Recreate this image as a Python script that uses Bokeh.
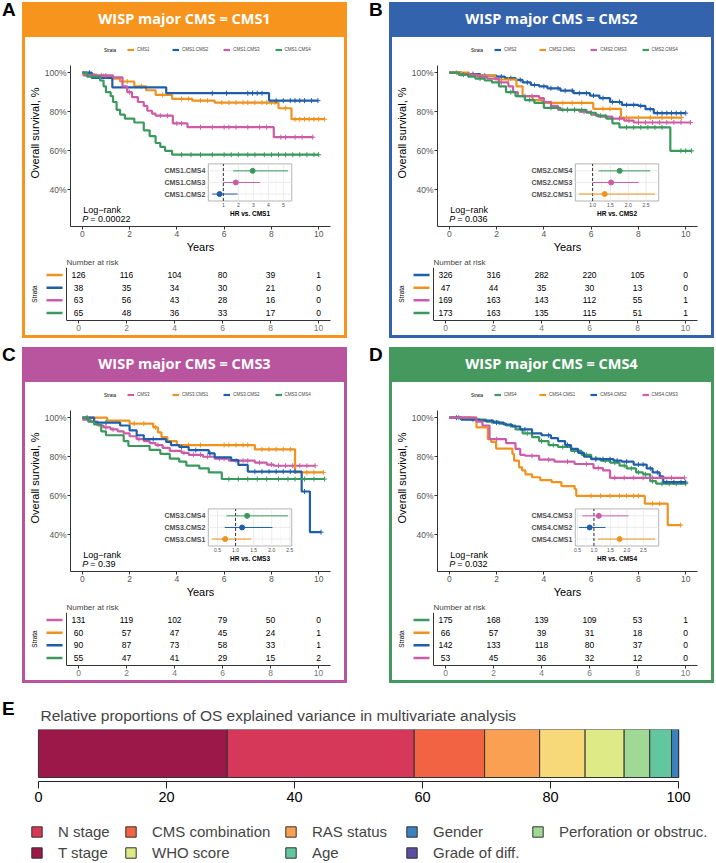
import numpy as np
from bokeh.plotting import figure
from bokeh.models import (Range1d, Legend, LegendItem, Div, FixedTicker, Span,
                          ColumnDataSource, NumeralTickFormatter)
from bokeh.layouts import row, column
from bokeh.core.properties import value
from bokeh.embed import file_html
from bokeh.resources import INLINE

FONT = "Liberation Sans"
CMS_COLORS = {"CMS1": "#F0921E", "CMS2": "#1F5EAA", "CMS3": "#CC5CA8", "CMS4": "#3A995C"}
FRAME_COLORS = {"CMS1": "#F7941D", "CMS2": "#3363AD", "CMS3": "#B9559F", "CMS4": "#46995E"}

YEAR_TICKS = [0, 2, 4, 6, 8, 10]
SURV_TICKS = [0.4, 0.6, 0.8, 1.0]

# ---------------- Panel A : major CMS1 ----------------
A_STRATA = ["CMS1", "CMS1.CMS2", "CMS1.CMS3", "CMS1.CMS4"]
A_T = [
    [0, 0.1, 0.6, 1.3, 1.6, 2.2, 2.7, 3.1, 3.8, 4.65, 5.6, 8.3, 8.85, 10.25],
    [0, 0.4, 1.27, 3.55, 7.9, 9.97],
    [0, 0.05, 1.3, 1.7, 1.9, 2.1, 2.35, 2.6, 2.75, 2.95, 3.1, 3.83, 4.45, 8.1, 9.75],
    [0, 0.2, 0.75, 0.9, 1.0, 1.2, 1.3, 1.45, 1.6, 1.8, 2.2, 2.6, 2.85, 3.1, 3.3, 3.5, 3.8, 10.0],
]
A_S = [
    [1.0, 0.99, 0.983, 0.97, 0.955, 0.93, 0.91, 0.886, 0.866, 0.857, 0.847, 0.818, 0.762, 0.762],
    [1.0, 0.973, 0.925, 0.895, 0.857, 0.857],
    [1.0, 0.986, 0.976, 0.93, 0.90, 0.875, 0.85, 0.83, 0.805, 0.79, 0.78, 0.74, 0.721, 0.67, 0.67],
    [1.0, 0.98, 0.96, 0.93, 0.90, 0.88, 0.85, 0.81, 0.785, 0.765, 0.745, 0.705, 0.675, 0.64, 0.62, 0.60, 0.58, 0.58],
]
A_CENS = [
    [0.9, 1.9, 2.5, 3.4, 4.2, 4.5, 5.0, 5.3, 5.9, 6.2, 6.5, 6.8, 7.0, 7.3, 7.6, 7.8, 8.0, 8.15, 8.6, 9.0, 9.2, 9.4, 9.6, 9.8, 10.0, 10.25],
    [0.3, 5.5, 6.1, 7.0, 7.2, 7.4, 7.6, 8.2, 8.5, 8.8, 9.0, 9.2, 9.4, 9.7, 9.97],
    [0.5, 0.8, 1.0, 2.0, 3.3, 3.6, 4.0, 4.2, 5.0, 5.5, 6.0, 6.2, 6.5, 7.0, 7.5, 7.8, 8.4, 8.6, 9.0, 9.3, 9.75],
    [4.2, 4.6, 5.0, 5.5, 6.0, 6.3, 6.6, 7.0, 7.3, 7.7, 8.0, 8.3, 8.6, 8.9, 9.2, 9.5, 9.8, 10.0],
]
A_RISK = [[126, 116, 104, 80, 39, 1], [38, 35, 34, 30, 21, 0], [63, 56, 43, 28, 16, 0], [65, 48, 36, 33, 17, 0]]
A_PVAL = "0.00022"
A_HR_NAMES = ["CMS1.CMS2", "CMS1.CMS3", "CMS1.CMS4"]
A_HR = [0.75, 1.83, 2.95]
A_HR_LO = [0.25, 1.0, 1.65]
A_HR_HI = [1.95, 3.45, 5.3]
A_HR_TICKS = [1, 2, 3, 4, 5]
A_HR_TICK_LABELS = ["1", "2", "3", "4", "5"]

# ---------------- Panel B : major CMS2 ----------------
B_STRATA = ["CMS2", "CMS2.CMS1", "CMS2.CMS3", "CMS2.CMS4"]
B_T = [
    [0, 0.5, 1.3, 2.0, 2.35, 2.8, 3.1, 3.45, 3.8, 4.15, 4.7, 5.25, 5.95, 6.35, 6.8, 7.3, 8.0, 8.3, 8.65, 10.0],
    [0, 0.83, 1.94, 2.84, 3.1, 3.53, 3.94, 6.09, 7.26, 9.82],
    [0, 0.4, 1.2, 1.6, 2.1, 2.5, 2.7, 2.9, 3.8, 4.0, 4.3, 4.6, 5.5, 6.0, 6.3, 6.9, 7.4, 7.8, 10.2],
    [0, 0.4, 0.8, 1.1, 1.5, 1.8, 2.1, 2.4, 2.8, 3.2, 3.6, 4.0, 4.7, 5.8, 6.2, 6.65, 6.9, 7.2, 9.35, 10.25],
]
B_S = [
    [1.0, 0.993, 0.985, 0.98, 0.972, 0.963, 0.95, 0.937, 0.93, 0.92, 0.908, 0.895, 0.883, 0.87, 0.85, 0.835, 0.83, 0.813, 0.793, 0.793],
    [1.0, 0.985, 0.965, 0.93, 0.88, 0.86, 0.845, 0.815, 0.77, 0.77],
    [1.0, 0.99, 0.98, 0.97, 0.95, 0.93, 0.90, 0.88, 0.87, 0.85, 0.83, 0.81, 0.80, 0.785, 0.775, 0.765, 0.755, 0.745, 0.745],
    [1.0, 0.99, 0.98, 0.97, 0.96, 0.95, 0.93, 0.90, 0.88, 0.86, 0.845, 0.82, 0.81, 0.795, 0.78, 0.765, 0.74, 0.72, 0.60, 0.60],
]
B_CENS = [
    [0.5, 1.0, 1.5, 2.2, 2.6, 3.0, 3.3, 3.6, 4.0, 4.3, 4.6, 4.9, 5.2, 5.5, 5.8, 6.1, 6.5, 6.9, 7.2, 7.5, 7.8, 8.1, 8.5, 8.8, 9.0, 9.2, 9.4, 9.6, 9.8, 10.0],
    [0.3, 2.5, 4.3, 4.8, 5.2, 5.6, 6.5, 6.8, 7.5, 8.0, 8.5, 9.0, 9.4, 9.82],
    [0.8, 1.4, 2.2, 3.2, 3.5, 4.8, 5.0, 5.3, 5.7, 6.6, 7.2, 7.6, 8.0, 8.3, 8.6, 8.9, 9.2, 9.5, 9.8, 10.2],
    [0.6, 1.3, 2.6, 3.4, 4.3, 5.0, 5.3, 5.6, 6.0, 6.4, 7.5, 7.8, 8.1, 8.4, 8.7, 9.0, 9.8, 10.0, 10.25],
]
B_RISK = [[326, 316, 282, 220, 105, 0], [47, 44, 35, 30, 13, 0], [169, 163, 143, 112, 55, 1], [173, 163, 135, 115, 51, 1]]
B_PVAL = "0.036"
B_HR_NAMES = ["CMS2.CMS1", "CMS2.CMS3", "CMS2.CMS4"]
B_HR = [1.34, 1.52, 1.76]
B_HR_LO = [0.62, 1.0, 1.17]
B_HR_HI = [2.75, 2.29, 2.62]
B_HR_TICKS = [1.0, 1.5, 2.0, 2.5]
B_HR_TICK_LABELS = ["1.0", "1.5", "2.0", "2.5"]

# ---------------- Panel C : major CMS3 ----------------
C_STRATA = ["CMS3", "CMS3.CMS1", "CMS3.CMS2", "CMS3.CMS4"]
C_T = [
    [0, 0.35, 0.65, 0.9, 1.2, 1.5, 1.75, 2.0, 2.3, 2.6, 2.85, 3.1, 3.4, 3.7, 4.2, 4.5, 5.1, 5.6, 6.2, 7.3, 7.8, 8.1, 9.85],
    [0, 1.05, 2.0, 3.0, 3.2, 3.35, 3.6, 4.0, 7.3, 9.0, 10.2],
    [0, 0.5, 1.6, 2.0, 2.3, 2.6, 3.55, 3.75, 4.1, 4.5, 5.35, 5.6, 6.3, 6.6, 7.0, 9.28, 9.63, 10.1],
    [0, 0.25, 0.5, 0.8, 1.0, 1.75, 1.95, 2.85, 3.3, 3.7, 4.1, 4.4, 4.95, 5.35, 5.9, 10.25],
]
C_S = [
    [0.99, 0.98, 0.96, 0.95, 0.94, 0.93, 0.92, 0.905, 0.89, 0.88, 0.87, 0.86, 0.845, 0.83, 0.82, 0.81, 0.80, 0.79, 0.78, 0.77, 0.76, 0.754, 0.754],
    [1.0, 0.985, 0.97, 0.95, 0.925, 0.90, 0.88, 0.86, 0.838, 0.72, 0.72],
    [1.0, 0.975, 0.96, 0.935, 0.91, 0.89, 0.876, 0.86, 0.85, 0.834, 0.817, 0.797, 0.783, 0.758, 0.724, 0.622, 0.414, 0.414],
    [1.0, 0.98, 0.965, 0.93, 0.91, 0.88, 0.855, 0.835, 0.815, 0.79, 0.775, 0.755, 0.74, 0.72, 0.686, 0.686],
]
C_CENS = [
    [1.0, 1.3, 2.4, 3.2, 4.3, 4.7, 5.0, 5.3, 5.8, 6.0, 6.5, 6.8, 7.0, 7.5, 8.0, 8.3, 8.6, 8.9, 9.2, 9.5, 9.85],
    [2.2, 2.6, 3.1, 4.5, 5.0, 6.0, 6.2, 6.5, 6.8, 7.0, 7.6, 7.9, 8.2, 8.5, 8.8, 9.5, 9.8, 10.2],
    [0.2, 1.0, 3.0, 4.2, 4.8, 5.4, 7.3, 7.6, 7.9, 8.2, 8.5, 8.8, 9.0, 9.4, 10.1],
    [6.2, 6.6, 7.0, 7.4, 7.8, 8.3, 8.7, 9.0, 9.4, 9.8, 10.25],
]
C_RISK = [[131, 119, 102, 79, 50, 0], [60, 57, 47, 45, 24, 1], [90, 87, 73, 58, 33, 1], [55, 47, 41, 29, 15, 2]]
C_PVAL = "0.39"
C_HR_NAMES = ["CMS3.CMS1", "CMS3.CMS2", "CMS3.CMS4"]
C_HR = [0.71, 1.18, 1.32]
C_HR_LO = [0.35, 0.70, 0.75]
C_HR_HI = [1.43, 2.02, 2.45]
C_HR_TICKS = [0.5, 1.0, 1.5, 2.0, 2.5]
C_HR_TICK_LABELS = ["0.5", "1.0", "1.5", "2.0", "2.5"]

# ---------------- Panel D : major CMS4 ----------------
D_STRATA = ["CMS4", "CMS4.CMS1", "CMS4.CMS2", "CMS4.CMS3"]
D_T = [
    [0, 0.9, 1.55, 2.1, 2.4, 2.8, 3.1, 3.5, 3.8, 4.2, 4.6, 5.15, 5.6, 6.0, 6.4, 6.8, 7.2, 7.5, 7.9, 8.2, 8.5, 8.75, 10.0],
    [0, 1.15, 1.63, 1.77, 1.98, 2.67, 2.74, 2.95, 3.08, 3.22, 3.5, 3.85, 4.33, 4.74, 5.3, 5.37, 8.27, 9.24, 9.79],
    [0, 0.5, 1.3, 1.85, 2.3, 2.65, 3.0, 3.5, 3.9, 4.3, 4.6, 4.9, 5.15, 5.45, 5.7, 6.0, 6.95, 7.3, 7.8, 8.35, 8.6, 8.9, 9.05, 10.0],
    [0, 1.15, 1.4, 1.7, 2.4, 2.8, 3.0, 3.2, 3.8, 4.45, 5.3, 6.1, 6.5, 6.8, 9.95],
]
D_S = [
    [1.0, 0.99, 0.98, 0.97, 0.96, 0.94, 0.92, 0.90, 0.88, 0.86, 0.85, 0.83, 0.81, 0.79, 0.78, 0.77, 0.755, 0.74, 0.72, 0.71, 0.675, 0.662, 0.662],
    [1.0, 0.95, 0.89, 0.876, 0.842, 0.814, 0.78, 0.746, 0.73, 0.71, 0.695, 0.68, 0.67, 0.65, 0.635, 0.60, 0.56, 0.45, 0.45],
    [1.0, 0.99, 0.985, 0.975, 0.965, 0.955, 0.94, 0.92, 0.91, 0.895, 0.88, 0.86, 0.84, 0.82, 0.80, 0.788, 0.78, 0.775, 0.76, 0.74, 0.72, 0.70, 0.67, 0.67],
    [1.0, 0.98, 0.96, 0.89, 0.87, 0.84, 0.81, 0.805, 0.785, 0.775, 0.763, 0.742, 0.73, 0.692, 0.692],
]
D_CENS = [
    [0.4, 1.0, 1.8, 2.6, 3.3, 3.9, 4.4, 4.8, 5.3, 5.8, 6.2, 6.6, 7.0, 7.4, 7.7, 8.0, 8.3, 8.6, 9.0, 9.3, 9.6, 10.0],
    [6.0, 6.4, 6.8, 7.2, 7.5, 7.8, 8.0, 8.6, 8.9, 9.79],
    [0.3, 2.0, 3.2, 4.2, 5.0, 6.2, 6.5, 6.8, 7.1, 7.5, 8.0, 8.2, 8.5, 8.8, 9.2, 9.5, 9.8, 10.0],
    [2.0, 3.5, 4.2, 5.0, 5.8, 6.3, 7.0, 7.4, 7.8, 8.2, 8.6, 9.0, 9.4, 9.95],
]
D_RISK = [[175, 168, 139, 109, 53, 1], [66, 57, 39, 31, 18, 0], [142, 133, 118, 80, 37, 0], [53, 45, 36, 32, 12, 0]]
D_PVAL = "0.032"
D_HR_NAMES = ["CMS4.CMS1", "CMS4.CMS2", "CMS4.CMS3"]
D_HR = [1.78, 0.87, 1.15]
D_HR_LO = [1.12, 0.55, 0.65]
D_HR_HI = [2.85, 1.35, 2.05]
D_HR_TICKS = [0.5, 1.0, 1.5, 2.0, 2.5]
D_HR_TICK_LABELS = ["0.5", "1.0", "1.5", "2.0", "2.5"]

# ---------------- Panel E ----------------
E_TITLE = "Relative proportions of OS explained variance in multivariate analysis"
E_VARS = ["T stage", "N stage", "CMS combination", "RAS status", "Unlabelled",
          "WHO score", "Perforation or obstruc.", "Age", "Gender", "Grade of diff."]
E_PCT = [29.5, 29.2, 11.0, 8.6, 7.1, 6.1, 4.0, 3.4, 1.1, 0.0]
E_COLORS = ["#9C1848", "#D6385A", "#F26343", "#F9A052", "#F8D97A",
            "#DDEA85", "#A0D896", "#62C79F", "#3B82C0", "#5B4EA2"]
E_LEGEND_COLUMNS = [["N stage", "T stage"], ["CMS combination", "WHO score"],
                    ["RAS status", "Age"], ["Gender", "Grade of diff."],
                    ["Perforation or obstruc."]]
E_TICKS = [0, 20, 40, 60, 80, 100]

# ---------------- geometry (pixels) ----------------
PANEL_W = 325
BODY_W = PANEL_W - 6
HEADER_H = 35
KM_H = 218
RISK_H = 80
PANEL_H = HEADER_H + KM_H + RISK_H + 3
KM_TOP, KM_BOTTOM = 2, 28
KM_LEFT, RIGHT = 41, 14
RISK_LEFT = 3
X_LO, X_HI = -0.5, 10.5
Y_LO, Y_AX_HI = 0.2125, 1.0375
SCALE = (BODY_W - KM_LEFT - RIGHT) / (X_HI - X_LO)
KM_FRAME_H = KM_H - KM_TOP - KM_BOTTOM
Y_PX = 162 / (Y_AX_HI - Y_LO)            # pixels per survival unit
Y_HI = Y_LO + KM_FRAME_H / Y_PX           # extra room above for the strata legend
RISK_X0 = X_HI - (BODY_W - RISK_LEFT - RIGHT) / SCALE


def no_align(fig):
    if "frame_align" in fig.properties():
        fig.frame_align = False
    fig.outline_line_color = None
    fig.background_fill_color = "white"
    fig.border_fill_color = "white"
    fig.xgrid.visible = False
    fig.ygrid.visible = False


def surv_at(t, s, times):
    t = np.asarray(t, float)
    s = np.asarray(s, float)
    idx = np.searchsorted(t, np.asarray(times, float), side="right") - 1
    return s[np.clip(idx, 0, len(s) - 1)]


def style_axis(ax, tick_size, label_size, tick_color="#555555"):
    ax.axis_line_color = "#333333"
    ax.axis_line_width = 1
    ax.major_tick_line_color = "#333333"
    ax.major_tick_in = 0
    ax.major_tick_out = 3
    ax.minor_tick_line_color = None
    ax.major_label_text_font = FONT
    ax.major_label_text_font_size = tick_size
    ax.major_label_text_color = tick_color
    ax.axis_label_text_font = FONT
    ax.axis_label_text_font_size = label_size
    ax.axis_label_text_font_style = "normal"
    ax.axis_label_text_color = "black"


def km_figure(strata, T, S, C, names, hr, lo, hi, ticks, tick_labels, pval):
    p = figure(width=BODY_W, height=KM_H, title=None, x_range=Range1d(X_LO, X_HI),
               y_range=Range1d(Y_LO, Y_HI), output_backend="svg", toolbar_location=None,
               min_border_left=KM_LEFT, min_border_right=RIGHT, min_border_top=KM_TOP,
               min_border_bottom=KM_BOTTOM)
    no_align(p)
    items = []
    for name, t, s, c in zip(strata, T, S, C):
        col = CMS_COLORS[name.split(".")[-1]]
        r = p.step(x=t, y=s, mode="after", line_color=col, line_width=2.2)
        p.scatter(x=c, y=surv_at(t, s, c), marker="cross", size=5, line_color=col, line_width=1)
        items.append(LegendItem(label=name, renderers=[r]))
    style_axis(p.xaxis[0], "8.5px", "11px")
    style_axis(p.yaxis[0], "8.5px", "11px")
    p.xaxis.ticker = FixedTicker(ticks=YEAR_TICKS)
    p.yaxis.ticker = FixedTicker(ticks=SURV_TICKS)
    p.yaxis.bounds = (Y_LO, Y_AX_HI)
    p.yaxis.formatter = NumeralTickFormatter(format="0%")
    p.xaxis.axis_label = "Years"
    p.yaxis.axis_label = "Overall survival, %"
    p.xaxis.major_label_standoff = 1
    p.xaxis.axis_label_standoff = 1
    p.yaxis.major_label_standoff = 1
    p.yaxis.axis_label_standoff = 1

    # strata legend inside the top strip of the frame
    leg_row_y = Y_HI - 11 / Y_PX
    leg = Legend(items=items, orientation="horizontal",
                 location=(57, KM_FRAME_H - 14),
                 label_text_font=FONT, label_text_font_size="4.5px",
                 glyph_width=7, glyph_height=5, label_height=5,
                 label_standoff=3, spacing=15, padding=0, margin=0,
                 border_line_color=None, background_fill_alpha=0)
    p.add_layout(leg)
    p.text(x=[X_LO + 34 / SCALE], y=[leg_row_y], text=["Strata"], text_font=value(FONT),
           text_font_size="4.5px", text_align="left", text_baseline="middle")

    # log-rank annotation
    p.text(x=[0.0], y=[0.298], text=["Log\u2212rank"], text_font=value(FONT),
           text_font_size="9px", text_align="left", text_baseline="middle", x_offset=1)
    p.text(x=[0.0], y=[0.25], text=["P"], text_font=value(FONT), text_font_style="italic",
           text_font_size="9px", text_align="left", text_baseline="middle")
    p.text(x=[0.0], y=[0.25], text=["= " + pval], text_font=value(FONT),
           text_font_size="9px", text_align="left", text_baseline="middle", x_offset=8)

    # hazard ratio inset
    n = len(names)
    pad = 0.05 * (max(hi) - min(lo))
    h0, h1 = min(lo) - pad, max(hi) + pad
    top = n + 0.6
    sub = p.subplot(x_source=Range1d(h0, h1), y_source=Range1d(0.4, top),
                    x_target=Range1d(5.33, 8.86), y_target=Range1d(0.343, 0.533))
    rows = list(range(1, n + 1))
    cols = [CMS_COLORS[nm.split(".")[-1]] for nm in names]
    sub.quad(left=[h0], right=[h1], bottom=[0.4], top=[top], fill_color="white",
             line_color="#B3B3B3", line_width=1)
    minor = [(a + b) / 2 for a, b in zip(ticks[:-1], ticks[1:])]
    sub.segment(x0=minor, x1=minor, y0=[0.4] * len(minor), y1=[top] * len(minor),
                line_color="#F2F2F2", line_width=0.6)
    sub.segment(x0=ticks, x1=ticks, y0=[0.4] * len(ticks), y1=[top] * len(ticks),
                line_color="#E6E6E6", line_width=0.8)
    sub.segment(x0=[h0] * n, x1=[h1] * n, y0=rows, y1=rows, line_color="#E6E6E6", line_width=0.8)
    sub.segment(x0=[1.0], x1=[1.0], y0=[0.4], y1=[top], line_color="#333333",
                line_width=1, line_dash="3 2")
    sub.segment(x0=lo, x1=hi, y0=rows, y1=rows, line_color=cols, line_width=1)
    sub.scatter(x=hr, y=rows, size=5, fill_color=cols, line_color=cols)
    sub.text(x=[h0] * n, y=rows, text=names, x_offset=-3, text_align="right",
             text_baseline="middle", text_font=value(FONT), text_font_size="7px",
             text_font_style="bold", text_color="#4D4D4D")
    sub.text(x=ticks, y=[0.4] * len(ticks), text=tick_labels, y_offset=2,
             text_align="center", text_baseline="top", text_font=value(FONT),
             text_font_size="5px", text_color="#4D4D4D")
    ref = names[0].split(".")[0]
    sub.text(x=[(h0 + h1) / 2], y=[0.4], text=["HR vs. " + ref], y_offset=9,
             text_align="center", text_baseline="top", text_font=value(FONT),
             text_font_size="6.5px", text_font_style="bold", text_color="black")
    return p


def risk_figure(strata, risk):
    n = len(strata)
    rows = list(range(n, 0, -1))
    r = figure(width=BODY_W, height=RISK_H, x_range=Range1d(RISK_X0, X_HI),
               y_range=Range1d(0.4, n + 0.6), output_backend="svg", toolbar_location=None,
               y_axis_location=None,
               min_border_left=RISK_LEFT, min_border_right=RIGHT, min_border_top=12,
               min_border_bottom=15)
    no_align(r)
    r.title.text = "Number at risk"
    r.title.text_font = FONT
    r.title.text_font_size = "8px"
    r.title.text_font_style = "normal"
    r.title.align = "left"
    r.title.offset = (X_LO - RISK_X0) * SCALE
    r.title.standoff = 1
    xs = list(np.tile(YEAR_TICKS, n))
    ys = list(np.repeat(rows, len(YEAR_TICKS)))
    txt = [str(v) for rr in risk for v in rr]
    r.text(x=xs, y=ys, text=txt, text_font=value(FONT), text_font_size="8.5px",
           text_align="center", text_baseline="middle", text_color="black")
    cols = [CMS_COLORS[nm.split(".")[-1]] for nm in strata]
    seg0 = RISK_X0 + 18 / SCALE
    seg1 = RISK_X0 + 34 / SCALE
    r.segment(x0=[seg0] * n, x1=[seg1] * n, y0=rows, y1=rows, line_color=cols, line_width=2.5)
    r.text(x=[RISK_X0 + 6 / SCALE], y=[(n + 1) / 2], text=["Strata"], angle=np.pi / 2,
           text_font=value(FONT), text_font_size="6.5px", text_align="center",
           text_baseline="middle")
    r.add_layout(Span(location=X_LO, dimension="height", line_color="#333333", line_width=1))
    style_axis(r.xaxis[0], "8.5px", "8px", tick_color="#777777")
    r.xaxis.ticker = FixedTicker(ticks=YEAR_TICKS)
    r.xaxis.bounds = (X_LO, X_HI)
    r.xaxis.major_label_standoff = 1
    return r


def panel(major, km, rk):
    color = FRAME_COLORS[major]
    header = Div(text=('<div style="width:%dpx;text-align:center;color:white;'
                       'font-family:\'Open Sans\';font-weight:bold;font-size:14.5px;'
                       'line-height:33px;">WISP major CMS = %s</div>' % (PANEL_W, major)),
                 width=PANEL_W, height=HEADER_H, margin=0, styles={"background-color": color})
    side_l = Div(text="", width=3, height=KM_H + RISK_H, margin=0, styles={"background-color": color})
    side_r = Div(text="", width=3, height=KM_H + RISK_H, margin=0, styles={"background-color": color})
    bottom = Div(text="", width=PANEL_W, height=3, margin=0, styles={"background-color": color})
    body = column(km, rk, styles={"background-color": "white"})
    return column(header, row(side_l, body, side_r), bottom)


def letter(ch, w, h, pad_left, pad_top=0):
    return Div(text=('<div style="font-family:\'Liberation Sans\';font-weight:bold;font-size:19px;'
                     'line-height:15px;padding-left:%dpx;padding-top:%dpx;">%s</div>'
                     % (pad_left, pad_top, ch)),
               width=w, height=h, margin=0)


pA = panel("CMS1", km_figure(A_STRATA, A_T, A_S, A_CENS, A_HR_NAMES, A_HR, A_HR_LO, A_HR_HI,
                             A_HR_TICKS, A_HR_TICK_LABELS, A_PVAL), risk_figure(A_STRATA, A_RISK))
pB = panel("CMS2", km_figure(B_STRATA, B_T, B_S, B_CENS, B_HR_NAMES, B_HR, B_HR_LO, B_HR_HI,
                             B_HR_TICKS, B_HR_TICK_LABELS, B_PVAL), risk_figure(B_STRATA, B_RISK))
pC = panel("CMS3", km_figure(C_STRATA, C_T, C_S, C_CENS, C_HR_NAMES, C_HR, C_HR_LO, C_HR_HI,
                             C_HR_TICKS, C_HR_TICK_LABELS, C_PVAL), risk_figure(C_STRATA, C_RISK))
pD = panel("CMS4", km_figure(D_STRATA, D_T, D_S, D_CENS, D_HR_NAMES, D_HR, D_HR_LO, D_HR_HI,
                             D_HR_TICKS, D_HR_TICK_LABELS, D_PVAL), risk_figure(D_STRATA, D_RISK))

# ---------------- E figure ----------------
E_W = 692
E_H = 125
E_LEG_H = 53
E_LEFT, E_RIGHT = 14, 34
e = figure(width=E_W, height=E_H, x_range=Range1d(-0.3, 100.3), y_range=Range1d(-0.0833, 1.0),
           output_backend="svg", toolbar_location=None, y_axis_location=None,
           min_border_left=E_LEFT, min_border_right=E_RIGHT, min_border_top=46, min_border_bottom=27)
no_align(e)
rights = list(np.cumsum(E_PCT))
lefts = [0.0] + rights[:-1]
src = ColumnDataSource(dict(left=lefts, right=rights, bottom=[0] * len(E_PCT),
                            top=[1] * len(E_PCT), color=E_COLORS, var=E_VARS))
e.quad(left="left", right="right", bottom="bottom", top="top", fill_color="color",
       line_color="#333333", line_width=1, source=src)
ex = e.xaxis[0]
ex.ticker = FixedTicker(ticks=E_TICKS)
ex.bounds = (0, 100)
ex.axis_line_color = "#222222"
ex.major_tick_line_color = "#222222"
ex.major_tick_in = 0
ex.major_tick_out = 7
ex.minor_tick_line_color = None
ex.major_label_text_font = FONT
ex.major_label_text_font_size = "14.5px"
ex.major_label_text_color = "black"
ex.major_label_standoff = 3
e.title.text = E_TITLE
e.title.text_font = FONT
e.title.text_font_size = "15.5px"
e.title.text_font_style = "normal"
e.title.align = "left"
e.title.offset = 4
e.title.standoff = 11

# legend of panel E, in its own strip (one small legend per column)
lf = figure(width=E_W, height=E_LEG_H, x_range=Range1d(0, 1), y_range=Range1d(0, 1), title=None,
            output_backend="svg", toolbar_location=None, x_axis_location=None,
            y_axis_location=None, min_border=0)
no_align(lf)
E_LEG_X = [8, 102, 262, 383, 509]
for cx, col_vars in zip(E_LEG_X, E_LEGEND_COLUMNS):
    its = []
    for v in col_vars:
        # off-screen swatch renderer, only used to draw the legend square
        rr = lf.quad(left=[2], right=[3], bottom=[2], top=[3],
                     fill_color=E_COLORS[E_VARS.index(v)], line_color="#333333", line_width=1)
        its.append(LegendItem(label=v, renderers=[rr]))
    ly = 0 if len(col_vars) == 2 else 21
    lg = Legend(items=its, orientation="vertical", location=(cx, ly),
                label_text_font=FONT, label_text_font_size="15px", glyph_width=13,
                glyph_height=13, label_height=13, label_standoff=15, spacing=4,
                padding=0, margin=0, border_line_color=None, background_fill_alpha=0)
    lf.add_layout(lg)

layout = column(
    Div(text="", width=714, height=2, margin=0),
    row(letter("A", 22, PANEL_H, 2), pA, letter("B", 42, PANEL_H, 22), pB),
    Div(text="", width=714, height=9, margin=0),
    row(letter("C", 22, PANEL_H, 2), pC, letter("D", 42, PANEL_H, 22), pD),
    row(letter("E", 22, E_H + E_LEG_H, 2, 18), column(e, lf)),
)

open("out.html", "w").write(file_html(layout, INLINE))
